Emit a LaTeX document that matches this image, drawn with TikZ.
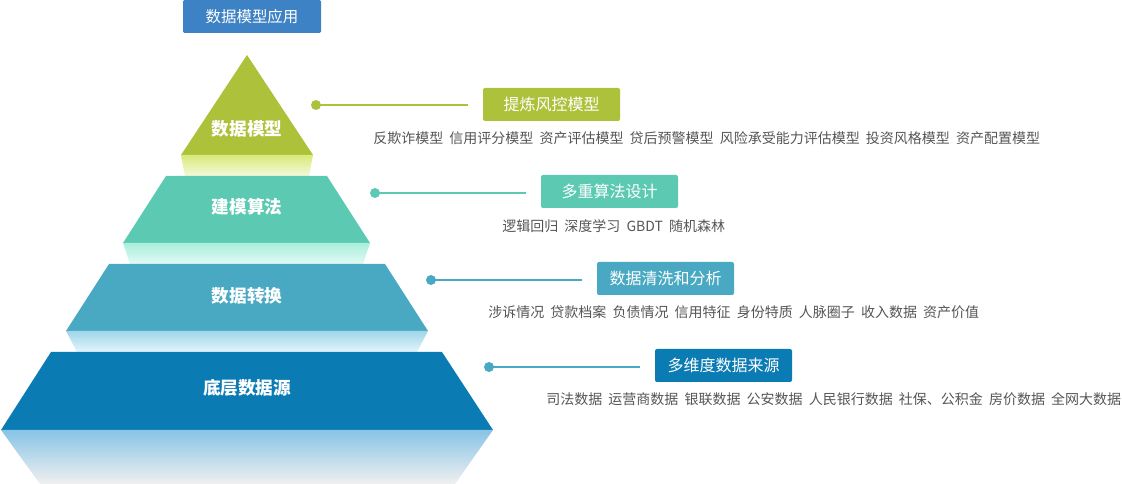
\documentclass[tikz,border=0pt]{standalone}
\usepackage{fontspec}
\setmainfont{Noto Sans CJK SC}
\definecolor{lvlA}{RGB}{173,194,58}
\definecolor{lvlB}{RGB}{92,202,178}
\definecolor{lvlC}{RGB}{73,169,194}
\definecolor{lvlD}{RGB}{11,123,180}
\definecolor{appblue}{RGB}{61,130,196}
\definecolor{desctext}{RGB}{85,85,85}
\newcommand{\gapsep}{\hspace{4.6pt}}
\begin{document}
\begin{tikzpicture}[x=0.75pt,y=-0.75pt,
  tag/.style={fill=#1,text=white,rounded corners=1.5pt,minimum width=102.75pt,minimum height=24.75pt,inner sep=0pt,font=\fontsize{12}{14}\selectfont},
  level/.style={text=white,inner sep=0pt,font=\fontsize{13.2}{15}\selectfont\bfseries},
  dot/.style={circle,fill=#1,minimum size=7.5pt,inner sep=0pt},
  lead/.style={draw=#1,line width=1.5pt,shorten >=11.25pt},
  desc/.style={anchor=west,text=desctext,inner sep=0pt,font=\fontsize{10.5}{12}\selectfont}]
\useasboundingbox (0,0) rectangle (1122,484);
% Title
\node [fill=appblue,text=white,rounded corners=1pt,minimum width=103.5pt,minimum height=24.75pt,inner sep=0pt,font=\fontsize{11.6}{14}\selectfont] (app) at (252,16.5) {数据模型应用};
%Shape: Triangle
\fill [lvlA] (247,55) -- (313,155) -- (181,155) -- cycle ;
\shade [top color={rgb,255:red,216;green,234;blue,122},bottom color={rgb,255:red,244;green,249;blue,220}] (181,155) -- (313,155) -- (309,176) -- (185,176) -- cycle ;
%Shape: Trapezoid
\fill [lvlB] (166,176) -- (327,176) -- (370,243) -- (123,243) -- cycle ;
\shade [top color={rgb,255:red,170;green,238;blue,220},bottom color={rgb,255:red,226;green,250;blue,244}] (123,243) -- (370,243) -- (363,264) -- (130,264) -- cycle ;
%Shape: Trapezoid
\fill [lvlC] (109,264) -- (385,264) -- (428,331) -- (66,331) -- cycle ;
\shade [top color={rgb,255:red,160;green,214;blue,234},bottom color={rgb,255:red,228;green,245;blue,251}] (66,331) -- (428,331) -- (417,352) -- (77,352) -- cycle ;
%Shape: Trapezoid
\fill [lvlD] (51,352) -- (442,352) -- (493,430) -- (1,430) -- cycle ;
\shade [top color={rgb,255:red,136;green,196;blue,230},bottom color={rgb,255:red,240;green,240;blue,240}] (1,430) -- (493,430) -- (455,484) -- (40,484) -- cycle ;
% Text Node
\node [level] (model) at (247,129) {数据模型};
\node [level] (algo) at (247,207) {建模算法};
\node [level] (convert) at (247,296) {数据转换};
\node [level] (source) at (247,388) {底层数据源};
% Level 1
\node [dot=lvlA] (dotA) at (316,105) {};
\node [tag=lvlA] (tagA) at (551.5,104.5) {提炼风控模型};
\draw [lead=lvlA] (dotA.center) -- (tagA.west |- dotA) ;
\node [desc] (descA) at (373,138) {反欺诈模型\gapsep 信用评分模型\gapsep 资产评估模型\gapsep 贷后预警模型\gapsep 风险承受能力评估模型\gapsep 投资风格模型\gapsep 资产配置模型};
% Level 2
\node [dot=lvlB] (dotB) at (375,193) {};
\node [tag=lvlB] (tagB) at (609.5,191.5) {多重算法设计};
\draw [lead=lvlB] (dotB.center) -- (tagB.west |- dotB) ;
\node [desc] (descB) at (502,226) {逻辑回归\gapsep 深度学习\gapsep GBDT\gapsep 随机森林};
% Level 3
\node [dot=lvlC] (dotC) at (431,280) {};
\node [tag=lvlC] (tagC) at (665.5,278.5) {数据清洗和分析};
\draw [lead=lvlC] (dotC.center) -- (tagC.west |- dotC) ;
\node [desc] (descC) at (488,312) {涉诉情况\gapsep 贷款档案\gapsep 负债情况\gapsep 信用特征\gapsep 身份特质\gapsep 人脉圈子\gapsep 收入数据\gapsep 资产价值};
% Level 4
\node [dot=lvlC] (dotD) at (489,367) {};
\node [tag=lvlD] (tagD) at (723.5,365.5) {多维度数据来源};
\draw [lead=lvlC] (dotD.center) -- (tagD.west |- dotD) ;
\node [desc] (descD) at (546,399) {司法数据\gapsep 运营商数据\gapsep 银联数据\gapsep 公安数据\gapsep 人民银行数据\gapsep 社保、公积金\gapsep 房价数据\gapsep 全网大数据};
\end{tikzpicture}
\end{document}
